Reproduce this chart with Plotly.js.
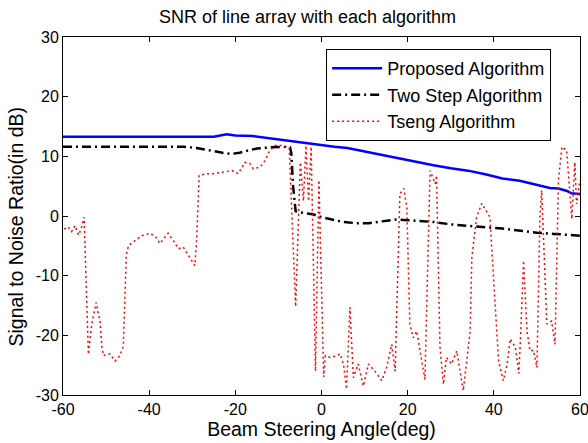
<!DOCTYPE html>
<html>
<head>
<meta charset="utf-8">
<script src="https://cdn.plot.ly/plotly-3.0.1.min.js"></script>
<style>html,body{margin:0;padding:0;background:#fff;}#chart{width:588px;height:443px;}</style>
</head>
<body>
<div id="chart"></div>
<script>
// Proposed Algorithm
var proposedX = [-60,-55,-50,-45,-40,-35,-30,-25,-22,-20,-16,-12,-10,-8,-6,-4,-2,0,3,6,10,14,18,22,26,30,34,38,42,46,50,53,55,57,58,60];
var proposedY = [13.3,13.3,13.3,13.3,13.3,13.3,13.3,13.3,13.7,13.5,13.4,13.0,12.9,12.6,12.5,12.3,12.0,11.8,11.6,11.4,10.8,10.2,9.7,9.1,8.5,8.0,7.6,7.0,6.3,5.9,5.2,4.7,4.6,4.2,3.8,3.7];

// Two Step Algorithm
var twoStepX = [-60,-50,-40,-32,-29,-27,-25,-23,-21,-19,-17,-15,-12,-9,-7.3,-7,-6.6,-6,-5,-2,0,3,5,8,11,14,17,20,23,26,30,34,38,42,46,50,54,57,60];
var twoStepY = [11.6,11.6,11.6,11.6,11.4,11.1,10.8,10.6,10.4,10.6,11.0,11.3,11.5,11.6,11.5,10.5,5,0.8,0.6,0.3,-0.2,-0.7,-1.0,-1.2,-1.2,-0.9,-0.6,-0.7,-0.9,-1.0,-1.4,-1.7,-1.9,-2.1,-2.5,-2.8,-3.0,-3.1,-3.3];

// Tseng Algorithm
var tsengX = [-59.7,-58.8,-58.0,-57.2,-56.4,-55.8,-55.1,-54.1,-53.3,-52.3,-51.8,-51.4,-51.0,-50.6,-49.1,-47.9,-46.8,-46.0,-45.3,-44.8,-44.2,-41.7,-39.8,-38.5,-37.5,-35.6,-34.4,-33.2,-32.1,-30.5,-29.4,-29.0,-28.4,-26.6,-25.1,-23.5,-20.8,-19.3,-17.8,-16.6,-15.8,-14.3,-13.5,-12.7,-12.0,-10.8,-9.2,-7.5,-6.0,-5.3,-4.9,-4.2,-3.6,-3.0,-2.4,-1.4,-0.6,0.5,0.9,2.0,3.2,4.3,5.1,5.8,6.6,7.4,8.5,9.7,10.9,12.4,14.0,15.1,16.3,17.1,18.2,19.1,19.8,20.5,21.3,22.1,22.9,24.0,25.2,26.4,26.7,27.5,28.3,29.0,30.2,31.4,32.9,33.7,34.5,34.9,36.0,37.2,38.3,39.1,39.5,40.3,41.1,42.2,43.1,43.8,45.0,45.8,46.1,46.9,47.7,48.4,49.2,50.0,50.7,51.1,51.5,52.3,53.4,54.2,55.0,55.8,56.9,57.7,58.1,58.8,59.2,60];
var tsengY = [-2.2,-1.8,-2.6,-1.6,-3.2,-2.2,-0.2,-23.2,-18,-14.5,-16.4,-17.6,-21.8,-23.4,-23.1,-24.3,-23.4,-21.8,-6.5,-5.0,-4.6,-3.3,-2.9,-3.5,-4.6,-2.9,-4.1,-5.5,-5.2,-7.1,-8.3,-4.4,6.8,7.1,7.1,7.3,7.6,7.1,9.0,8.8,7.9,8.2,8.8,9.9,11.0,11.8,11.8,11.5,-15.2,0.5,9.0,2.5,11.8,2.5,11.6,-26,6,-27,-23.4,-23.7,-23.5,-23.1,-24.8,-29,-15.3,-27.1,-24.8,-28.5,-24.8,-26,-27.6,-25.4,-21.5,-26,3.7,4.6,1.5,-18.1,-20.4,-19.3,-22.6,-27.4,7.6,5.4,6.8,-22,-28.2,-23.7,-24.8,-22.6,-29.3,-23.7,-19.3,-6.9,-0.2,2.1,0.9,-0.2,-5.2,-14.8,-24.3,-27.6,-24.8,-20.6,-22,-26.4,-22,-7.5,-19.3,-22.6,-22.5,-25.4,-0.2,4.3,-3.5,-18.1,-17.6,-21.5,6,11.6,11.0,3.7,-0.5,9.0,2.0,6];

var xTicks = [-60,-40,-20,0,20,40,60];
var yTicks = [-30,-20,-10,0,10,20,30];

var FONT = 'Liberation Sans, Arial, sans-serif';

var traces = [
  {x: proposedX, y: proposedY, name: 'Proposed Algorithm', mode: 'lines',
   line: {color: '#0000ff', width: 2.5}},
  {x: twoStepX, y: twoStepY, name: 'Two Step Algorithm', mode: 'lines',
   line: {color: '#000000', width: 2.5, dash: '9px,4px,2px,4px'}},
  {x: tsengX, y: tsengY, name: 'Tseng Algorithm', mode: 'lines',
   line: {color: '#ff0000', width: 1.5, dash: '2px,3px'}}
];

var axisCommon = {
  showgrid: false, zeroline: false, showline: true, mirror: 'ticks',
  linecolor: '#000', linewidth: 1, ticks: 'inside', ticklen: 5, tickwidth: 1,
  tickcolor: '#000', tickfont: {family: FONT, size: 16, color: '#000'},
  ticklabeloverflow: 'allow'
};

var layout = {
  width: 588, height: 443,
  margin: {l: 63, r: 8, t: 37, b: 48, pad: 0},
  paper_bgcolor: '#fff', plot_bgcolor: '#fff',
  showlegend: true,
  title: {text: 'SNR of line array with each algorithm', font: {family: FONT, size: 18, color: '#000'},
          xref: 'container', x: 0.523, xanchor: 'center', yref: 'container', y: 0.962, yanchor: 'middle'},
  xaxis: Object.assign({}, axisCommon, {range: [-60, 60], tickvals: xTicks, ticktext: xTicks.map(String),
          title: {text: 'Beam Steering Angle(deg)', font: {family: FONT, size: 19.5, color: '#000'}, standoff: 3}}),
  yaxis: Object.assign({}, axisCommon, {range: [-30, 30], tickvals: yTicks, ticktext: yTicks.map(String)}),
  annotations: [{
    text: 'Signal to Noise Ratio(in dB)', xref: 'paper', yref: 'paper',
    x: -0.09, y: 0.472, xanchor: 'center', yanchor: 'middle', textangle: -90, showarrow: false,
    font: {family: FONT, size: 19.5, color: '#000'}
  }],
  legend: {x: 0.509, y: 0.966, xanchor: 'left', yanchor: 'top', bgcolor: '#fff',
           bordercolor: '#000', borderwidth: 1, font: {family: FONT, size: 18, color: '#000'},
           tracegroupgap: 0, itemwidth: 50}
};

Plotly.newPlot('chart', traces, layout, {displayModeBar: false, staticPlot: true});
</script>
</body>
</html>
